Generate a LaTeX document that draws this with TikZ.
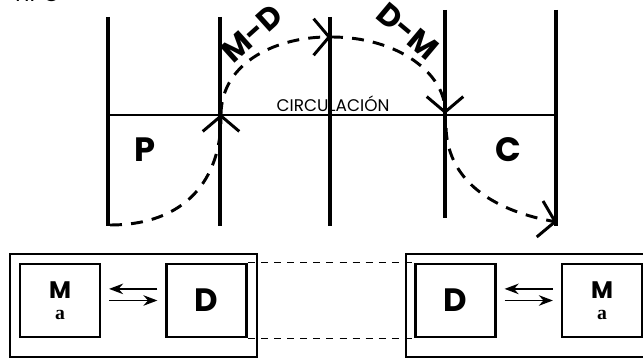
\documentclass[tikz,border=0pt]{standalone}
\usepackage{fontspec}
\setmainfont{Poppins}
\newfontfamily\serifa{Liberation Serif}
\usepackage{tikz}
\usetikzlibrary{arrows.meta}

\begin{document}
\begin{tikzpicture}[x=0.025cm,y=-0.025cm,
                    wall/.style={line width=2.8pt},
                    floor/.style={line width=2.1pt},
                    route/.style={line width=2.1pt,dash pattern=on 8.5pt off 6.5pt,-{Straight Barb[length=11pt,width=26pt]}},
                    room/.style={draw,line width=2.1pt,minimum width=2cm,minimum height=1.825cm,inner sep=0pt,align=center},
                    frame/.style={line width=1.1pt},
                    link/.style={line width=0.9pt,dash pattern=on 5pt off 4.3pt},
                    flow/.style={line width=1.1pt,-{Stealth[length=10pt,width=7.5pt]},shorten <=0.19cm,shorten >=0.19cm},
                    big/.style={font=\fontsize{24}{24}\selectfont\bfseries},
                    tag/.style={font=\fontsize{22}{22}\selectfont\bfseries},
                    dlabel/.style={font=\fontsize{23}{23}\selectfont\bfseries}]

  \useasboundingbox (0,0) rectangle (643,359);

  \node[anchor=base west,font=\fontsize{16}{16}\selectfont] (tipo) at (7,2) {TIPO};

  % muros
  \coordinate (w1t) at (108,17);  \coordinate (w1b) at (108,226);
  \coordinate (w2t) at (220,17);  \coordinate (w2b) at (220,226);
  \coordinate (w3t) at (330,17);  \coordinate (w3b) at (330,226);
  \coordinate (w4t) at (445,10);  \coordinate (w4b) at (445,218);
  \coordinate (w5t) at (556,10);  \coordinate (w5b) at (556,226);
  \coordinate (hl) at (108,115);  \coordinate (hr) at (556,115);

  \draw[wall] (w1t) -- (w1b);
  \draw[wall] (w2t) -- (w2b);
  \draw[wall] (w3t) -- (w3b);
  \draw[wall] (w4t) -- (w4b);
  \draw[wall] (w5t) -- (w5b);
  \draw[floor] (hl) -- (hr);

  % recorrido
  \coordinate (a0) at (110,225);
  \coordinate (a1) at (221,114);
  \coordinate (a2) at (331,37);
  \coordinate (a3) at (445,114);
  \coordinate (a4) at (446,128);
  \coordinate (a5) at (557,222);

  \draw[route] (a0) .. controls (185,225) and (221,180) .. (a1);
  \draw[route] (a1) .. controls (222,60) and (280,37) .. (a2);
  \draw[route] (a2) .. controls (400,37) and (445,75) .. (a3);
  \draw[route] (a4) .. controls (448,185) and (500,212) .. (a5);

  \node[tag,rotate=42] (md) at (252,33) {M-D};
  \node[tag,rotate=-40] (dm) at (408,31) {D-M};
  \node[font=\fontsize{12}{12}\selectfont] (circ) at (333,104) {CIRCULACIÓN};
  \node[big] (p) at (145,150) {P};
  \node[big] (c) at (508,150) {C};

  % modulos
  \draw[frame] (10,254) rectangle (257,357);
  \draw[frame] (406,254) rectangle (660,357);

  \node[room] (ml) at (60,300.5) {\fontsize{17}{17}\selectfont\bfseries M\\[3pt]{\serifa\fontsize{14}{14}\selectfont\bfseries a}};
  \node[room,dlabel] (dl) at (206.5,300.5) {D};
  \node[room,dlabel] (dr) at (455.5,300.5) {D};
  \node[room] (mr) at (602,300.5) {\fontsize{17}{17}\selectfont\bfseries M\\[3pt]{\serifa\fontsize{14}{14}\selectfont\bfseries a}};

  \path[link] (dl.north east) edge (dr.north west)
              (dl.south east) edge (dr.south west);

  \draw[flow] ([yshift=0.29cm]dl.west) -- ([yshift=0.29cm]ml.east);
  \draw[flow] (ml.east) -- (dl.west);
  \draw[flow] ([yshift=0.29cm]mr.west) -- ([yshift=0.29cm]dr.east);
  \draw[flow] (dr.east) -- (mr.west);
\end{tikzpicture}
\end{document}
